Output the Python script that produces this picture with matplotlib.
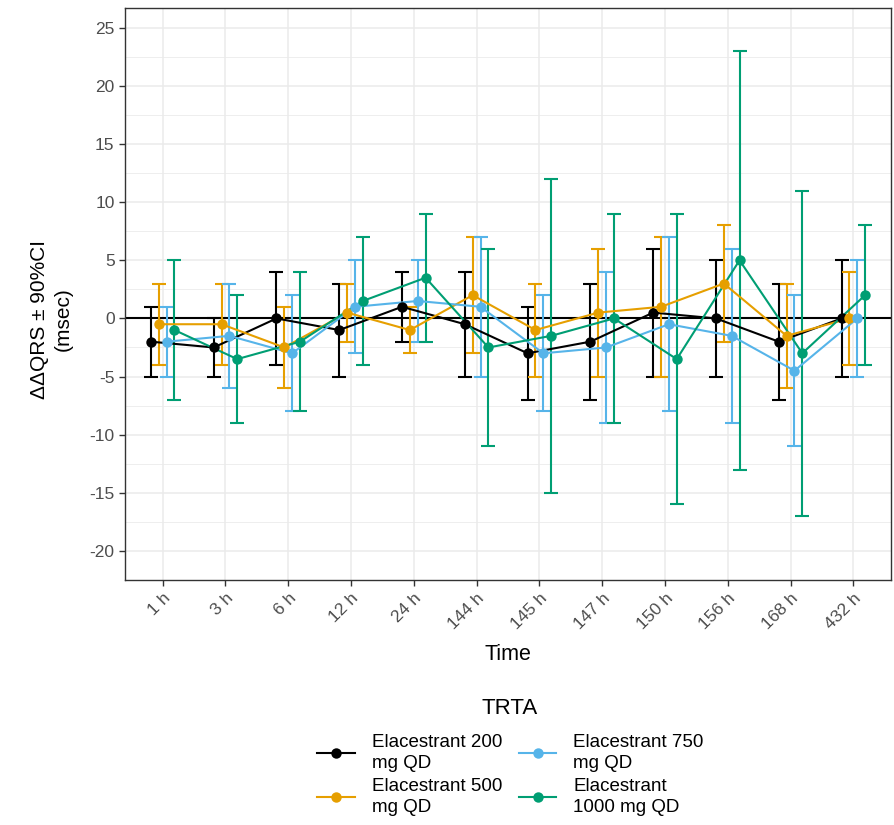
import matplotlib
matplotlib.use("Agg")
import matplotlib.pyplot as plt
from matplotlib.lines import Line2D
import numpy as np

plt.rcParams['font.family'] = ['Liberation Sans', 'DejaVu Sans']
plt.rcParams['axes.unicode_minus'] = False

times = ["1 h", "3 h", "6 h", "12 h", "24 h", "144 h", "145 h", "147 h",
         "150 h", "156 h", "168 h", "432 h"]
groups = ["Elacestrant 200\nmg QD", "Elacestrant 500\nmg QD",
          "Elacestrant 750\nmg QD", "Elacestrant\n1000 mg QD"]
colors = ["#000000", "#E69F00", "#56B4E9", "#009E73"]

# mean, lower and upper 90% CI for each dose group
mean_200 = [-2, -2.5, 0, -1, 1, -0.5, -3, -2, 0.5, 0, -2, 0]
lo_200 = [-5, -5, -4, -5, -2, -5, -7, -7, -5, -5, -7, -5]
hi_200 = [1, 0, 4, 3, 4, 4, 1, 3, 6, 5, 3, 5]

mean_500 = [-0.5, -0.5, -2.5, 0.5, -1, 2, -1, 0.5, 1, 3, -1.5, 0]
lo_500 = [-4, -4, -6, -2, -3, -3, -5, -5, -5, -2, -6, -4]
hi_500 = [3, 3, 1, 3, 1, 7, 3, 6, 7, 8, 3, 4]

mean_750 = [-2, -1.5, -3, 1, 1.5, 1, -3, -2.5, -0.5, -1.5, -4.5, 0]
lo_750 = [-5, -6, -8, -3, -2, -5, -8, -9, -8, -9, -11, -5]
hi_750 = [1, 3, 2, 5, 5, 7, 2, 4, 7, 6, 2, 5]

mean_1000 = [-1, -3.5, -2, 1.5, 3.5, -2.5, -1.5, 0, -3.5, 5, -3, 2]
lo_1000 = [-7, -9, -8, -4, -2, -11, -15, -9, -16, -13, -17, -4]
hi_1000 = [5, 2, 4, 7, 9, 6, 12, 9, 9, 23, 11, 8]

means = [mean_200, mean_500, mean_750, mean_1000]
lows = [lo_200, lo_500, lo_750, lo_1000]
highs = [hi_200, hi_500, hi_750, hi_1000]

fig = plt.figure(figsize=(8.94, 8.25), dpi=100)
ax = fig.add_axes([125 / 894, 1 - 580 / 825, 766 / 894, 572 / 825])

x = np.arange(len(times))
dodge = 0.5
offsets = [dodge * (k - 1.5) / 4 for k in range(4)]

ax.axhline(0, color="black", lw=1.5, zorder=2)

for k in range(4):
    m = np.array(means[k])
    yerr = [m - np.array(lows[k]), np.array(highs[k]) - m]
    ax.errorbar(x + offsets[k], m, yerr=yerr, fmt="none", ecolor=colors[k],
                elinewidth=1.5, capsize=4.7, capthick=1.5, zorder=3)
for k in range(4):
    ax.plot(x + offsets[k], means[k], color=colors[k], lw=1.5, zorder=4)
for k in range(4):
    ax.plot(x + offsets[k], means[k], "o", color=colors[k], ms=7.5,
            zorder=5, markeredgewidth=0)

ax.set_xlim(-0.6, len(times) - 0.4)
ax.set_ylim(-22.4, 26.7)
ax.set_yticks(np.arange(-20, 26, 5))
ax.set_yticks(np.arange(-22.5, 26, 2.5), minor=True)
ax.set_xticks(x)
ax.set_xticklabels(times, rotation=45, ha="right", rotation_mode="anchor")
ax.tick_params(axis="both", colors="#333333", labelcolor="#4D4D4D",
               labelsize=12.5, length=4, width=1)
ax.tick_params(axis="y", which="minor", length=0)
ax.grid(True, which="major", color="#EBEBEB", lw=1.1, zorder=0)
ax.grid(True, which="minor", axis="y", color="#EBEBEB", lw=0.6, zorder=0)
ax.set_axisbelow(True)
for s in ax.spines.values():
    s.set_color("#333333")
    s.set_linewidth(1)

fig.text(51 / 894, 1 - 319 / 825, "ΔΔQRS ± 90%CI\n(msec)", rotation=90,
         ha="center", va="center", ma="center", fontsize=15, linespacing=1.3)
fig.text(508 / 894, 1 - 655 / 825, "Time", ha="center", va="center",
         fontsize=15.5)

# legend title placed on its own so its gap to the entries can be set
fig.text(510 / 894, 1 - 708 / 825, "TRTA", ha="center", va="center",
         fontsize=16)
handles = [Line2D([0], [0], color=c, lw=1.5, marker="o", ms=7.5,
                  markeredgewidth=0) for c in colors]
leg = fig.legend(handles, groups, ncol=2, loc="center",
                 bbox_to_anchor=(0.571, 1 - 775 / 825), frameon=False,
                 fontsize=13.5, handlelength=2.0,
                 handletextpad=0.9, columnspacing=0.9, labelspacing=0.3)
for t in leg.get_texts():
    t.set_linespacing(1.35)

fig.savefig("out.png", dpi=100)
